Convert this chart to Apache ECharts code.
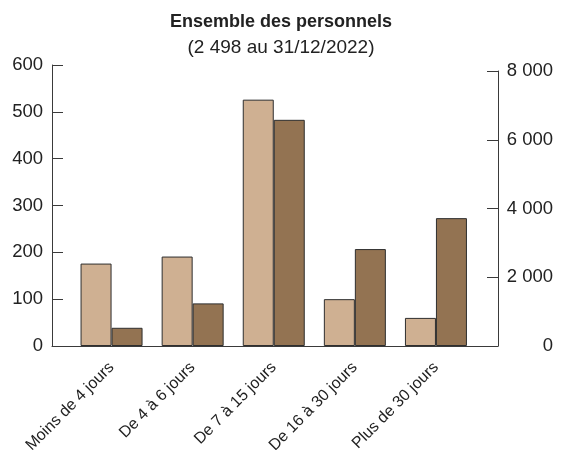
<!DOCTYPE html>
<html>
<head>
<meta charset="utf-8">
<script src="https://cdn.jsdelivr.net/npm/echarts@6/dist/echarts.min.js"></script>
<style>html,body{margin:0;padding:0;background:#fff;}#c{width:562px;height:450px;}</style>
</head>
<body>
<div id="c"></div>
<script>
var categories = ['Moins de 4 jours', 'De 4 à 6 jours', 'De 7 à 15 jours', 'De 16 à 30 jours', 'Plus de 30 jours'];
var leftValues = [176, 191, 526, 100, 60];
var rightValues = [530, 1240, 6580, 2820, 3720];
var leftTicks = [0, 600, 100];
var rightTicks = [0, 8000, 2000];
var titleText = 'Ensemble des personnels';
var subtitleText = '(2 498 au 31/12/2022)';

var FONT = '"Liberation Sans", Arial, sans-serif';
var AX = '#3a3a3a';
function fmtSpace(v) { return String(v).replace(/\B(?=(\d{3})+(?!\d))/g, ' '); }
var empty = categories.map(function () { return '-'; });

var chart = echarts.init(document.getElementById('c'), null, { renderer: 'canvas' });
chart.setOption({
  animation: false,
  backgroundColor: '#fff',
  title: {
    text: titleText, subtext: subtitleText, left: 'center', top: 6, itemGap: 4,
    textStyle: { fontFamily: FONT, fontSize: 18, fontWeight: 'bold', color: '#222', lineHeight: 22 },
    subtextStyle: { fontFamily: FONT, fontSize: 19, color: '#222', lineHeight: 22 }
  },
  grid: [
    { left: 71, right: 85.5, top: 65, bottom: 104, outerBoundsMode: 'none', containLabel: false },
    { left: 71, right: 85.5, top: 71, bottom: 104, outerBoundsMode: 'none', containLabel: false },
    { left: 52, right: 64, top: 65, bottom: 104, outerBoundsMode: 'none', containLabel: false }
  ],
  xAxis: [
    { type: 'category', gridIndex: 0, data: categories, axisLine: { show: false }, axisTick: { show: false },
      axisLabel: { rotate: 45, margin: 19, fontFamily: FONT, fontSize: 16, color: '#222', interval: 0 } },
    { type: 'category', gridIndex: 1, data: categories, show: false },
    { type: 'value', gridIndex: 2, min: 0, max: 1, axisLine: { show: true, lineStyle: { color: AX, width: 1 } },
      axisTick: { show: false }, axisLabel: { show: false }, splitLine: { show: false } }
  ],
  yAxis: [
    { type: 'value', gridIndex: 0, position: 'left', offset: 19, min: leftTicks[0], max: leftTicks[1], interval: leftTicks[2],
      axisLine: { show: true, lineStyle: { color: AX, width: 1 } },
      axisTick: { show: true, inside: true, length: 11, lineStyle: { color: AX } },
      axisLabel: { margin: 9, fontFamily: FONT, fontSize: 18.5, color: '#222' },
      splitLine: { show: false } },
    { type: 'value', gridIndex: 1, position: 'right', offset: 21.5, min: rightTicks[0], max: rightTicks[1], interval: rightTicks[2],
      axisLine: { show: true, lineStyle: { color: AX, width: 1 } },
      axisTick: { show: true, inside: true, length: 11, lineStyle: { color: AX } },
      axisLabel: { margin: 55, align: 'right', fontFamily: FONT, fontSize: 18.5, color: '#222', formatter: fmtSpace },
      splitLine: { show: false } },
    { type: 'value', gridIndex: 2, min: 0, max: 1, show: false }
  ],
  series: [
    { type: 'bar', xAxisIndex: 0, yAxisIndex: 0, data: leftValues, barWidth: 31, barGap: '0%',
      itemStyle: { color: '#CFB092', borderColor: '#2e2e2e', borderWidth: 1 } },
    { type: 'bar', xAxisIndex: 0, yAxisIndex: 0, data: empty, barWidth: 31, barGap: '0%', silent: true },
    { type: 'bar', xAxisIndex: 1, yAxisIndex: 1, data: empty, barWidth: 31, barGap: '0%', silent: true },
    { type: 'bar', xAxisIndex: 1, yAxisIndex: 1, data: rightValues, barWidth: 31, barGap: '0%',
      itemStyle: { color: '#937352', borderColor: '#2e2e2e', borderWidth: 1 } }
  ]
});
</script>
</body>
</html>
